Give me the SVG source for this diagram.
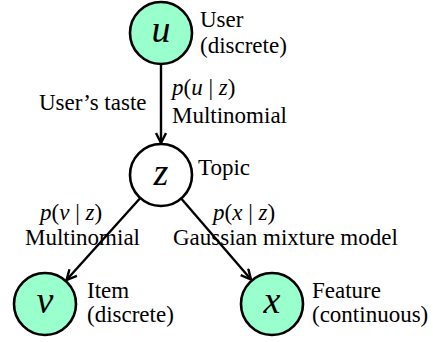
<svg xmlns="http://www.w3.org/2000/svg" width="433" height="342" viewBox="0 0 433 342">
<defs>
<marker id="arr" viewBox="0 0 12 12" refX="11" refY="6" markerWidth="12" markerHeight="12" markerUnits="userSpaceOnUse" orient="auto">
<path d="M1,1 L11,6 L1,11" fill="none" stroke="#000" stroke-width="2.4"/>
</marker>
</defs>
<style>
.node{fill:#99FFCC;stroke:#000;stroke-width:2.6}
.latent{fill:#fff;stroke:#000;stroke-width:2.6}
.edge{stroke:#000;stroke-width:2.4;fill:none;marker-end:url(#arr)}
text{font-family:'Liberation Serif','Times New Roman','DejaVu Serif',serif;font-size:23px;fill:#000}
.var{font-style:italic;font-size:38px;text-anchor:middle}
.it{font-style:italic}
</style>
<rect width="433" height="342" fill="#fff"/>
<g id="connectors">
<line class="edge" x1="161" y1="64" x2="161" y2="143"/>
<line class="edge" x1="140.3" y1="198" x2="66.5" y2="280"/>
<line class="edge" x1="181.2" y1="198.5" x2="251" y2="279.5"/>
</g>
<g id="node-u">
<circle class="node" cx="161" cy="33" r="31"/>
<text class="var" x="161" y="42">u</text>
<text x="200" y="27">User</text>
<text x="200" y="53">(discrete)</text>
</g>
<g id="node-z">
<circle class="latent" cx="161" cy="175" r="31"/>
<text class="var" x="161" y="185">z</text>
<text x="198" y="175">Topic</text>
</g>
<g id="node-v">
<circle class="node" cx="45" cy="304" r="31"/>
<text class="var" x="45" y="313">v</text>
<text x="87" y="298">Item</text>
<text x="87" y="322">(discrete)</text>
</g>
<g id="node-x">
<circle class="node" cx="272" cy="304" r="31"/>
<text class="var" x="272" y="313">x</text>
<text x="312" y="298">Feature</text>
<text x="312" y="322">(continuous)</text>
</g>
<g id="labels">
<text x="39" y="110">User’s taste</text>
<text x="172" y="95"><tspan class="it">p</tspan>(<tspan class="it">u</tspan> | <tspan class="it">z</tspan>)</text>
<text x="172" y="123">Multinomial</text>
<text x="40" y="220"><tspan class="it">p</tspan>(<tspan class="it">v</tspan> | <tspan class="it">z</tspan>)</text>
<text x="25" y="245">Multinomial</text>
<text x="213" y="220"><tspan class="it">p</tspan>(<tspan class="it">x</tspan> | <tspan class="it">z</tspan>)</text>
<text x="173" y="245">Gaussian mixture model</text>
</g>
</svg>
